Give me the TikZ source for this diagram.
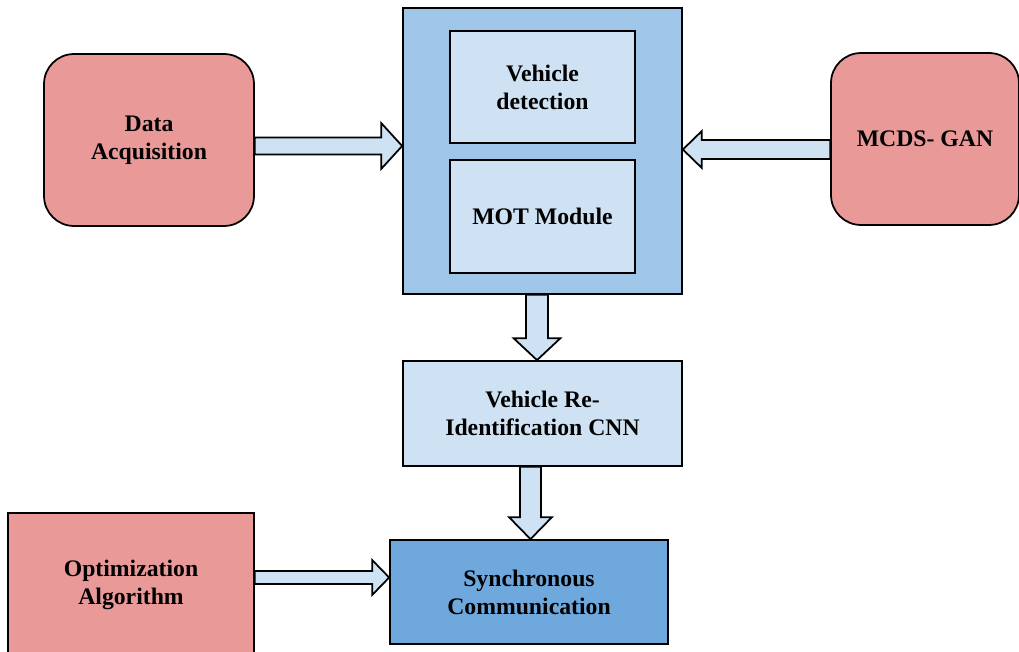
\documentclass[tikz,border=0pt]{standalone}
\usepackage{fontspec}
\setmainfont{Liberation Serif}
\usepackage{xcolor}
\usepackage{tikz}
\usetikzlibrary{calc}
\definecolor{pinkbox}{HTML}{EA9999}
\definecolor{bluebox}{HTML}{9FC5E8}
\definecolor{palebox}{HTML}{CFE2F3}
\definecolor{darkbox}{HTML}{6FA8DC}
\tikzset{blk/.style={draw,line width=1pt,align=center,font=\fontsize{13.5}{16}\selectfont\bfseries,inner sep=2pt},
rnd/.style={blk,fill=pinkbox,rounded corners=0.6cm},
sq/.style={blk,fill=pinkbox},
outer/.style={blk,fill=bluebox},
inner/.style={blk,fill=palebox},
arr/.style={draw,line width=1pt,fill=palebox,line join=miter}}
% block arrow: from, to, half shaft, half head, head length
\newcommand{\blockarrow}[5]{%
  \draw[arr] let \p1=(#1), \p2=(#2), \n1={atan2(\y2-\y1,\x2-\x1)}, \n2={veclen(\x2-\x1,\y2-\y1)} in
    [shift={(\p1)}, rotate=\n1]
    (0,-#3) -- ({\n2*1pt-#5},-#3) -- ({\n2*1pt-#5},-#4) -- ({\n2*1pt},0)
    -- ({\n2*1pt-#5},#4) -- ({\n2*1pt-#5},#3) -- (0,#3) -- cycle;}

\begin{document}
\begin{tikzpicture}[x=0.02cm,y=-0.02cm]
    \useasboundingbox (0,0) rectangle (1019,652);
    \clip (0,0) rectangle (1019,652);
    \node[rnd,minimum width=4.2cm,minimum height=3.44cm] (acq) at (149,140) {Data\\Acquisition};
    \node[outer,minimum width=5.58cm,minimum height=5.72cm] (main) at (542.5,151) {};
    \node[inner,minimum width=3.7cm,minimum height=2.24cm] (det) at (542.5,87) {Vehicle\\detection};
    \node[inner,minimum width=3.7cm,minimum height=2.26cm] (mot) at (542.5,216.5) {MOT Module};
    \node[rnd,minimum width=3.76cm,minimum height=3.44cm] (gan) at (925,139) {MCDS- GAN};
    \node[inner,minimum width=5.58cm,minimum height=2.1cm] (reid) at (542.5,413.5) {Vehicle Re-\\Identification CNN};
    \node[blk,fill=darkbox,minimum width=5.56cm,minimum height=2.08cm] (sync) at (529,592) {Synchronous\\Communication};
    \node[sq,minimum width=4.92cm,minimum height=2.88cm] (opt) at (131,585) {Optimization\\Algorithm};

    \coordinate (s1) at ([yshift=-0.12cm]acq.east);
    \coordinate (s2) at ([yshift=-0.21cm]gan.west);
    \coordinate (s3) at ([xshift=-0.11cm]main.south);
    \coordinate (s4) at ([xshift=-0.24cm]reid.south);
    \coordinate (s5) at ([yshift=0.15cm]opt.east);

    \blockarrow{s1}{main.west |- s1}{0.17cm}{0.46cm}{0.42cm}
    \blockarrow{s2}{main.east |- s2}{0.19cm}{0.37cm}{0.38cm}
    \blockarrow{s3}{reid.north -| s3}{0.22cm}{0.47cm}{0.44cm}
    \blockarrow{s4}{sync.north -| s4}{0.21cm}{0.43cm}{0.44cm}
    \blockarrow{s5}{sync.west |- s5}{0.13cm}{0.35cm}{0.34cm}
\end{tikzpicture}
\end{document}
